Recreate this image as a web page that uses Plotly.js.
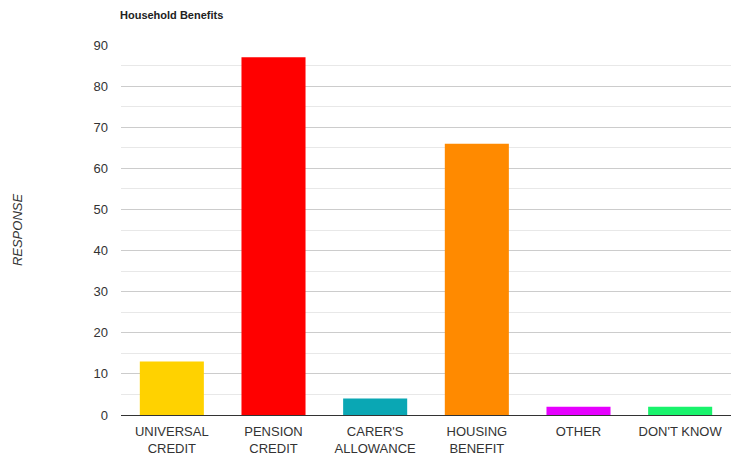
<!DOCTYPE html>
<html>
<head>
<meta charset="utf-8">
<script src="https://cdn.plot.ly/plotly-3.0.1.min.js"></script>
<style>html,body{margin:0;padding:0;background:#fff;}#chart{width:731px;height:456px;}</style>
</head>
<body>
<div id="chart"></div>
<script>
const categories = ["UNIVERSAL<br>CREDIT", "PENSION<br>CREDIT", "CARER'S<br>ALLOWANCE", "HOUSING<br>BENEFIT", "OTHER", "DON'T KNOW"];
const responses = [13, 87, 4, 66, 2, 2];
const barColors = ["#ffd200", "#ff0000", "#0aa7b4", "#ff8a00", "#e600ff", "#19f36c"];
const yTicks = [0, 10, 20, 30, 40, 50, 60, 70, 80, 90];

const trace = {
  type: "bar",
  x: categories,
  y: responses,
  marker: {color: barColors},
  hoverinfo: "x+y"
};

const layout = {
  width: 731,
  height: 456,
  margin: {l: 121, r: 0, t: 45, b: 41},
  paper_bgcolor: "#fff",
  plot_bgcolor: "#fff",
  font: {family: "Liberation Sans, Arial, sans-serif", size: 13, color: "#333"},
  bargap: 0.37,
  showlegend: false,
  title: {
    text: "<b>Household Benefits</b>",
    font: {size: 11, color: "#222"},
    x: 120 / 731, xref: "container", xanchor: "left",
    y: 1 - 15 / 456, yref: "container", yanchor: "middle"
  },
  xaxis: {
    type: "category",
    showgrid: false,
    showline: false,
    ticks: "",
    ticklabelstandoff: 7,
    tickfont: {size: 13, color: "#333"},
    automargin: false
  },
  yaxis: {
    range: [0, 90],
    tickvals: yTicks,
    ticktext: yTicks.map(String),
    showgrid: true,
    gridcolor: "#cccccc",
    gridwidth: 1,
    zeroline: true,
    zerolinecolor: "#333333",
    zerolinewidth: 1,
    ticklabelstandoff: 12,
    tickfont: {size: 13, color: "#333"},
    minor: {dtick: 5, tick0: 0, showgrid: true, gridcolor: "#e8e8e8", gridwidth: 1},
    automargin: false,
    title: {text: "<i>RESPONSE</i>", font: {size: 13, color: "#333"}, standoff: 67}
  }
};

Plotly.newPlot("chart", [trace], layout, {displayModeBar: false, staticPlot: true});
</script>
</body>
</html>
